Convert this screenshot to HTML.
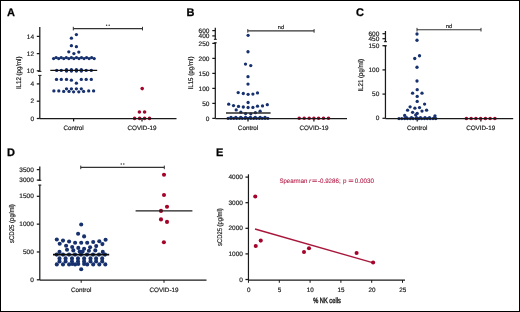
<!DOCTYPE html>
<html><head><meta charset="utf-8"><style>
html,body{margin:0;padding:0;background:#fff;}
body{width:520px;height:312px;overflow:hidden;position:relative;}
svg{position:absolute;left:0;top:0;display:block;will-change:transform;}
text{font-family:"Liberation Sans", sans-serif;text-rendering:geometricPrecision;}
</style></head><body>
<svg width="520" height="312" viewBox="0 0 520 312">
<rect x="0" y="0" width="520" height="312" fill="#fff"/>
<text x="6.9" y="16.4" font-size="11" font-weight="bold" fill="#000" stroke="#000" stroke-width="0.25">A</text>
<line x1="39.80" y1="27.00" x2="39.80" y2="71.50" stroke="#1a1a1a" stroke-width="1.25"/>
<line x1="38.00" y1="71.40" x2="41.40" y2="71.40" stroke="#1a1a1a" stroke-width="1.0"/>
<line x1="39.80" y1="75.30" x2="39.80" y2="118.50" stroke="#1a1a1a" stroke-width="1.25"/>
<line x1="38.20" y1="75.40" x2="41.50" y2="75.40" stroke="#1a1a1a" stroke-width="1.0"/>
<line x1="36.80" y1="36.40" x2="39.80" y2="36.40" stroke="#1a1a1a" stroke-width="1.25"/>
<text x="34.00" y="38.50" font-size="6.5" fill="#1c1c1c" stroke="#1c1c1c" stroke-width="0.18" text-anchor="end">14</text>
<line x1="36.80" y1="53.60" x2="39.80" y2="53.60" stroke="#1a1a1a" stroke-width="1.25"/>
<text x="34.00" y="55.70" font-size="6.5" fill="#1c1c1c" stroke="#1c1c1c" stroke-width="0.18" text-anchor="end">12</text>
<line x1="36.80" y1="70.80" x2="39.80" y2="70.80" stroke="#1a1a1a" stroke-width="1.25"/>
<text x="34.00" y="72.90" font-size="6.5" fill="#1c1c1c" stroke="#1c1c1c" stroke-width="0.18" text-anchor="end">10</text>
<line x1="36.80" y1="83.90" x2="39.80" y2="83.90" stroke="#1a1a1a" stroke-width="1.25"/>
<text x="34.00" y="86.00" font-size="6.5" fill="#1c1c1c" stroke="#1c1c1c" stroke-width="0.18" text-anchor="end">4</text>
<line x1="36.80" y1="101.20" x2="39.80" y2="101.20" stroke="#1a1a1a" stroke-width="1.25"/>
<text x="34.00" y="103.30" font-size="6.5" fill="#1c1c1c" stroke="#1c1c1c" stroke-width="0.18" text-anchor="end">2</text>
<line x1="36.80" y1="118.50" x2="39.80" y2="118.50" stroke="#1a1a1a" stroke-width="1.25"/>
<text x="34.00" y="120.60" font-size="6.5" fill="#1c1c1c" stroke="#1c1c1c" stroke-width="0.18" text-anchor="end">0</text>
<line x1="73.60" y1="118.50" x2="73.60" y2="121.40" stroke="#1a1a1a" stroke-width="1.25"/>
<line x1="142.00" y1="118.50" x2="142.00" y2="121.40" stroke="#1a1a1a" stroke-width="1.25"/>
<text x="73.60" y="130.10" font-size="6.3" fill="#1c1c1c" stroke="#1c1c1c" stroke-width="0.18" text-anchor="middle">Control</text>
<text x="142.00" y="130.10" font-size="6.3" fill="#1c1c1c" stroke="#1c1c1c" stroke-width="0.18" text-anchor="middle">COVID-19</text>
<line x1="73.30" y1="28.60" x2="142.50" y2="28.60" stroke="#333" stroke-width="1.1"/>
<line x1="73.30" y1="26.80" x2="73.30" y2="30.40" stroke="#333" stroke-width="1.0"/>
<line x1="142.50" y1="26.80" x2="142.50" y2="30.40" stroke="#333" stroke-width="1.0"/>
<circle cx="106.60" cy="25.30" r="0.75" fill="#333"/><circle cx="109.20" cy="25.30" r="0.75" fill="#333"/>
<text transform="translate(21.20,72.80) rotate(-90)" x="0" y="0" font-size="6.9" fill="#1c1c1c" stroke="#1c1c1c" stroke-width="0.18" text-anchor="middle" textLength="32.6" lengthAdjust="spacingAndGlyphs">IL12 (pg/ml)</text>
<circle cx="76.40" cy="34.60" r="1.65" fill="#17316f"/>
<circle cx="71.40" cy="38.20" r="1.65" fill="#17316f"/>
<circle cx="71.40" cy="45.70" r="1.65" fill="#17316f"/>
<circle cx="76.40" cy="46.70" r="1.65" fill="#17316f"/>
<circle cx="68.80" cy="51.80" r="1.65" fill="#17316f"/>
<circle cx="73.90" cy="53.60" r="1.65" fill="#17316f"/>
<circle cx="78.80" cy="52.10" r="1.65" fill="#17316f"/>
<circle cx="53.60" cy="58.60" r="1.65" fill="#17316f"/>
<circle cx="56.14" cy="57.60" r="1.65" fill="#17316f"/>
<circle cx="58.68" cy="58.60" r="1.65" fill="#17316f"/>
<circle cx="61.21" cy="57.60" r="1.65" fill="#17316f"/>
<circle cx="63.75" cy="58.60" r="1.65" fill="#17316f"/>
<circle cx="66.29" cy="57.60" r="1.65" fill="#17316f"/>
<circle cx="68.83" cy="58.60" r="1.65" fill="#17316f"/>
<circle cx="71.36" cy="57.60" r="1.65" fill="#17316f"/>
<circle cx="73.90" cy="58.60" r="1.65" fill="#17316f"/>
<circle cx="76.44" cy="57.60" r="1.65" fill="#17316f"/>
<circle cx="78.97" cy="58.60" r="1.65" fill="#17316f"/>
<circle cx="81.51" cy="57.60" r="1.65" fill="#17316f"/>
<circle cx="84.05" cy="58.60" r="1.65" fill="#17316f"/>
<circle cx="86.59" cy="57.60" r="1.65" fill="#17316f"/>
<circle cx="89.12" cy="58.60" r="1.65" fill="#17316f"/>
<circle cx="91.66" cy="57.60" r="1.65" fill="#17316f"/>
<circle cx="94.20" cy="58.60" r="1.65" fill="#17316f"/>
<circle cx="56.70" cy="70.40" r="1.65" fill="#17316f"/>
<circle cx="61.30" cy="70.40" r="1.65" fill="#17316f"/>
<circle cx="66.50" cy="70.40" r="1.65" fill="#17316f"/>
<circle cx="71.40" cy="70.40" r="1.65" fill="#17316f"/>
<circle cx="76.40" cy="70.40" r="1.65" fill="#17316f"/>
<circle cx="81.30" cy="70.40" r="1.65" fill="#17316f"/>
<circle cx="86.20" cy="70.40" r="1.65" fill="#17316f"/>
<circle cx="91.30" cy="70.40" r="1.65" fill="#17316f"/>
<circle cx="66.50" cy="69.70" r="1.65" fill="#17316f"/>
<circle cx="66.50" cy="71.10" r="1.65" fill="#17316f"/>
<circle cx="71.40" cy="69.70" r="1.65" fill="#17316f"/>
<circle cx="71.40" cy="71.10" r="1.65" fill="#17316f"/>
<circle cx="76.40" cy="69.70" r="1.65" fill="#17316f"/>
<circle cx="76.40" cy="71.10" r="1.65" fill="#17316f"/>
<circle cx="81.30" cy="69.70" r="1.65" fill="#17316f"/>
<circle cx="81.30" cy="71.10" r="1.65" fill="#17316f"/>
<circle cx="56.50" cy="79.40" r="1.65" fill="#17316f"/>
<circle cx="61.30" cy="79.40" r="1.65" fill="#17316f"/>
<circle cx="66.50" cy="79.40" r="1.65" fill="#17316f"/>
<circle cx="81.30" cy="79.40" r="1.65" fill="#17316f"/>
<circle cx="86.20" cy="79.40" r="1.65" fill="#17316f"/>
<circle cx="91.30" cy="79.40" r="1.65" fill="#17316f"/>
<circle cx="71.40" cy="80.20" r="1.65" fill="#17316f"/>
<circle cx="76.40" cy="83.20" r="1.65" fill="#17316f"/>
<circle cx="53.90" cy="90.90" r="1.65" fill="#17316f"/>
<circle cx="58.80" cy="90.90" r="1.65" fill="#17316f"/>
<circle cx="63.70" cy="91.40" r="1.65" fill="#17316f"/>
<circle cx="69.00" cy="91.40" r="1.65" fill="#17316f"/>
<circle cx="73.60" cy="91.80" r="1.65" fill="#17316f"/>
<circle cx="78.80" cy="91.80" r="1.65" fill="#17316f"/>
<circle cx="83.60" cy="91.40" r="1.65" fill="#17316f"/>
<circle cx="88.70" cy="90.90" r="1.65" fill="#17316f"/>
<circle cx="93.60" cy="90.90" r="1.65" fill="#17316f"/>
<circle cx="66.50" cy="88.80" r="1.65" fill="#17316f"/>
<circle cx="71.40" cy="88.80" r="1.65" fill="#17316f"/>
<circle cx="76.40" cy="88.80" r="1.65" fill="#17316f"/>
<circle cx="81.30" cy="88.80" r="1.65" fill="#17316f"/>
<line x1="50.30" y1="70.45" x2="97.20" y2="70.45" stroke="#111" stroke-width="1.2"/>
<circle cx="142.20" cy="88.60" r="1.8" fill="#a3042a"/>
<circle cx="139.40" cy="112.00" r="1.8" fill="#a3042a"/>
<circle cx="144.60" cy="112.00" r="1.8" fill="#a3042a"/>
<circle cx="134.60" cy="118.40" r="1.8" fill="#a3042a"/>
<circle cx="139.60" cy="118.40" r="1.8" fill="#a3042a"/>
<circle cx="144.60" cy="118.40" r="1.8" fill="#a3042a"/>
<circle cx="149.50" cy="118.40" r="1.8" fill="#a3042a"/>
<text x="186.4" y="16.0" font-size="11" font-weight="bold" fill="#000" stroke="#000" stroke-width="0.25">B</text>
<line x1="215.30" y1="27.80" x2="215.30" y2="39.60" stroke="#1a1a1a" stroke-width="1.25"/>
<line x1="213.90" y1="39.30" x2="216.80" y2="39.30" stroke="#1a1a1a" stroke-width="1.0"/>
<line x1="215.30" y1="42.50" x2="215.30" y2="118.50" stroke="#1a1a1a" stroke-width="1.25"/>
<line x1="213.80" y1="42.80" x2="216.80" y2="42.80" stroke="#1a1a1a" stroke-width="1.0"/>
<line x1="212.30" y1="30.60" x2="215.30" y2="30.60" stroke="#1a1a1a" stroke-width="1.25"/>
<text x="209.40" y="32.70" font-size="6.5" fill="#1c1c1c" stroke="#1c1c1c" stroke-width="0.18" text-anchor="end">600</text>
<line x1="212.30" y1="35.90" x2="215.30" y2="35.90" stroke="#1a1a1a" stroke-width="1.25"/>
<text x="209.40" y="38.00" font-size="6.5" fill="#1c1c1c" stroke="#1c1c1c" stroke-width="0.18" text-anchor="end">400</text>
<line x1="212.30" y1="43.40" x2="215.30" y2="43.40" stroke="#1a1a1a" stroke-width="1.25"/>
<text x="209.40" y="45.50" font-size="6.5" fill="#1c1c1c" stroke="#1c1c1c" stroke-width="0.18" text-anchor="end">250</text>
<line x1="212.30" y1="58.40" x2="215.30" y2="58.40" stroke="#1a1a1a" stroke-width="1.25"/>
<text x="209.40" y="60.50" font-size="6.5" fill="#1c1c1c" stroke="#1c1c1c" stroke-width="0.18" text-anchor="end">200</text>
<line x1="212.30" y1="73.40" x2="215.30" y2="73.40" stroke="#1a1a1a" stroke-width="1.25"/>
<text x="209.40" y="75.50" font-size="6.5" fill="#1c1c1c" stroke="#1c1c1c" stroke-width="0.18" text-anchor="end">150</text>
<line x1="212.30" y1="88.40" x2="215.30" y2="88.40" stroke="#1a1a1a" stroke-width="1.25"/>
<text x="209.40" y="90.50" font-size="6.5" fill="#1c1c1c" stroke="#1c1c1c" stroke-width="0.18" text-anchor="end">100</text>
<line x1="212.30" y1="103.40" x2="215.30" y2="103.40" stroke="#1a1a1a" stroke-width="1.25"/>
<text x="209.40" y="105.50" font-size="6.5" fill="#1c1c1c" stroke="#1c1c1c" stroke-width="0.18" text-anchor="end">50</text>
<line x1="212.30" y1="118.40" x2="215.30" y2="118.40" stroke="#1a1a1a" stroke-width="1.25"/>
<text x="209.40" y="120.50" font-size="6.5" fill="#1c1c1c" stroke="#1c1c1c" stroke-width="0.18" text-anchor="end">0</text>
<line x1="248.00" y1="118.50" x2="248.00" y2="121.40" stroke="#1a1a1a" stroke-width="1.25"/>
<line x1="313.90" y1="118.50" x2="313.90" y2="121.40" stroke="#1a1a1a" stroke-width="1.25"/>
<text x="248.00" y="130.10" font-size="6.3" fill="#1c1c1c" stroke="#1c1c1c" stroke-width="0.18" text-anchor="middle">Control</text>
<text x="313.90" y="130.10" font-size="6.3" fill="#1c1c1c" stroke="#1c1c1c" stroke-width="0.18" text-anchor="middle">COVID-19</text>
<line x1="247.80" y1="30.90" x2="314.10" y2="30.90" stroke="#333" stroke-width="1.1"/>
<line x1="247.80" y1="29.10" x2="247.80" y2="32.70" stroke="#333" stroke-width="1.0"/>
<line x1="314.10" y1="29.10" x2="314.10" y2="32.70" stroke="#333" stroke-width="1.0"/>
<text x="280.95" y="29.00" font-size="5.6" fill="#1c1c1c" stroke="#1c1c1c" stroke-width="0.18" text-anchor="middle">nd</text>
<text transform="translate(193.20,73.00) rotate(-90)" x="0" y="0" font-size="6.9" fill="#1c1c1c" stroke="#1c1c1c" stroke-width="0.18" text-anchor="middle" textLength="33.0" lengthAdjust="spacingAndGlyphs">IL15 (pg/ml)</text>
<circle cx="248.10" cy="35.30" r="1.65" fill="#17316f"/>
<circle cx="248.00" cy="51.75" r="1.65" fill="#17316f"/>
<circle cx="245.50" cy="64.10" r="1.65" fill="#17316f"/>
<circle cx="250.75" cy="65.60" r="1.65" fill="#17316f"/>
<circle cx="248.00" cy="76.70" r="1.65" fill="#17316f"/>
<circle cx="248.00" cy="84.10" r="1.65" fill="#17316f"/>
<circle cx="238.20" cy="92.60" r="1.65" fill="#17316f"/>
<circle cx="243.30" cy="93.50" r="1.65" fill="#17316f"/>
<circle cx="248.10" cy="94.30" r="1.65" fill="#17316f"/>
<circle cx="252.90" cy="94.10" r="1.65" fill="#17316f"/>
<circle cx="257.50" cy="92.90" r="1.65" fill="#17316f"/>
<circle cx="248.10" cy="102.50" r="1.65" fill="#17316f"/>
<circle cx="228.70" cy="104.20" r="1.65" fill="#17316f"/>
<circle cx="233.50" cy="105.60" r="1.65" fill="#17316f"/>
<circle cx="238.50" cy="106.40" r="1.65" fill="#17316f"/>
<circle cx="243.30" cy="107.00" r="1.65" fill="#17316f"/>
<circle cx="248.10" cy="107.50" r="1.65" fill="#17316f"/>
<circle cx="252.90" cy="107.40" r="1.65" fill="#17316f"/>
<circle cx="257.50" cy="106.20" r="1.65" fill="#17316f"/>
<circle cx="262.50" cy="105.90" r="1.65" fill="#17316f"/>
<circle cx="267.30" cy="104.70" r="1.65" fill="#17316f"/>
<circle cx="236.20" cy="109.90" r="1.65" fill="#17316f"/>
<circle cx="240.80" cy="112.20" r="1.65" fill="#17316f"/>
<circle cx="245.60" cy="113.60" r="1.65" fill="#17316f"/>
<circle cx="250.80" cy="113.80" r="1.65" fill="#17316f"/>
<circle cx="255.40" cy="112.70" r="1.65" fill="#17316f"/>
<circle cx="260.10" cy="111.20" r="1.65" fill="#17316f"/>
<circle cx="228.10" cy="118.30" r="1.65" fill="#17316f"/>
<circle cx="230.94" cy="118.30" r="1.65" fill="#17316f"/>
<circle cx="233.79" cy="118.30" r="1.65" fill="#17316f"/>
<circle cx="236.63" cy="118.30" r="1.65" fill="#17316f"/>
<circle cx="239.47" cy="118.30" r="1.65" fill="#17316f"/>
<circle cx="242.31" cy="118.30" r="1.65" fill="#17316f"/>
<circle cx="245.16" cy="118.30" r="1.65" fill="#17316f"/>
<circle cx="248.00" cy="118.30" r="1.65" fill="#17316f"/>
<circle cx="250.84" cy="118.30" r="1.65" fill="#17316f"/>
<circle cx="253.69" cy="118.30" r="1.65" fill="#17316f"/>
<circle cx="256.53" cy="118.30" r="1.65" fill="#17316f"/>
<circle cx="259.37" cy="118.30" r="1.65" fill="#17316f"/>
<circle cx="262.21" cy="118.30" r="1.65" fill="#17316f"/>
<circle cx="265.06" cy="118.30" r="1.65" fill="#17316f"/>
<circle cx="267.90" cy="118.30" r="1.65" fill="#17316f"/>
<circle cx="231.00" cy="117.40" r="1.65" fill="#17316f"/>
<circle cx="235.86" cy="117.40" r="1.65" fill="#17316f"/>
<circle cx="240.71" cy="117.40" r="1.65" fill="#17316f"/>
<circle cx="245.57" cy="117.40" r="1.65" fill="#17316f"/>
<circle cx="250.43" cy="117.40" r="1.65" fill="#17316f"/>
<circle cx="255.29" cy="117.40" r="1.65" fill="#17316f"/>
<circle cx="260.14" cy="117.40" r="1.65" fill="#17316f"/>
<circle cx="265.00" cy="117.40" r="1.65" fill="#17316f"/>
<line x1="226.00" y1="113.00" x2="270.60" y2="113.00" stroke="#2a2a2a" stroke-width="1.4"/>
<circle cx="299.20" cy="118.30" r="1.8" fill="#a3042a"/>
<circle cx="304.20" cy="118.30" r="1.8" fill="#a3042a"/>
<circle cx="309.20" cy="118.30" r="1.8" fill="#a3042a"/>
<circle cx="313.90" cy="118.30" r="1.8" fill="#a3042a"/>
<circle cx="318.60" cy="118.30" r="1.8" fill="#a3042a"/>
<circle cx="323.50" cy="118.30" r="1.8" fill="#a3042a"/>
<circle cx="328.50" cy="118.30" r="1.8" fill="#a3042a"/>
<text x="356.1" y="16.0" font-size="11" font-weight="bold" fill="#000" stroke="#000" stroke-width="0.25">C</text>
<line x1="385.45" y1="31.00" x2="385.45" y2="42.00" stroke="#1a1a1a" stroke-width="1.25"/>
<line x1="383.95" y1="41.70" x2="386.95" y2="41.70" stroke="#1a1a1a" stroke-width="1.0"/>
<line x1="385.45" y1="45.50" x2="385.45" y2="118.50" stroke="#1a1a1a" stroke-width="1.25"/>
<line x1="383.95" y1="45.80" x2="386.95" y2="45.80" stroke="#1a1a1a" stroke-width="1.0"/>
<line x1="382.45" y1="33.70" x2="385.45" y2="33.70" stroke="#1a1a1a" stroke-width="1.25"/>
<text x="379.30" y="35.80" font-size="6.5" fill="#1c1c1c" stroke="#1c1c1c" stroke-width="0.18" text-anchor="end">600</text>
<line x1="382.45" y1="38.70" x2="385.45" y2="38.70" stroke="#1a1a1a" stroke-width="1.25"/>
<text x="379.30" y="40.80" font-size="6.5" fill="#1c1c1c" stroke="#1c1c1c" stroke-width="0.18" text-anchor="end">450</text>
<line x1="382.45" y1="45.70" x2="385.45" y2="45.70" stroke="#1a1a1a" stroke-width="1.25"/>
<text x="379.30" y="47.80" font-size="6.5" fill="#1c1c1c" stroke="#1c1c1c" stroke-width="0.18" text-anchor="end">150</text>
<line x1="382.45" y1="69.90" x2="385.45" y2="69.90" stroke="#1a1a1a" stroke-width="1.25"/>
<text x="379.30" y="72.00" font-size="6.5" fill="#1c1c1c" stroke="#1c1c1c" stroke-width="0.18" text-anchor="end">100</text>
<line x1="382.45" y1="94.10" x2="385.45" y2="94.10" stroke="#1a1a1a" stroke-width="1.25"/>
<text x="379.30" y="96.20" font-size="6.5" fill="#1c1c1c" stroke="#1c1c1c" stroke-width="0.18" text-anchor="end">50</text>
<line x1="382.45" y1="118.30" x2="385.45" y2="118.30" stroke="#1a1a1a" stroke-width="1.25"/>
<text x="379.30" y="120.40" font-size="6.5" fill="#1c1c1c" stroke="#1c1c1c" stroke-width="0.18" text-anchor="end">0</text>
<line x1="417.20" y1="118.50" x2="417.20" y2="121.40" stroke="#1a1a1a" stroke-width="1.25"/>
<line x1="480.90" y1="118.50" x2="480.90" y2="121.40" stroke="#1a1a1a" stroke-width="1.25"/>
<text x="417.20" y="130.10" font-size="6.3" fill="#1c1c1c" stroke="#1c1c1c" stroke-width="0.18" text-anchor="middle">Control</text>
<text x="480.70" y="130.10" font-size="6.3" fill="#1c1c1c" stroke="#1c1c1c" stroke-width="0.18" text-anchor="middle">COVID-19</text>
<line x1="417.00" y1="29.70" x2="481.00" y2="29.70" stroke="#333" stroke-width="1.1"/>
<line x1="417.00" y1="27.90" x2="417.00" y2="31.50" stroke="#333" stroke-width="1.0"/>
<line x1="481.00" y1="27.90" x2="481.00" y2="31.50" stroke="#333" stroke-width="1.0"/>
<text x="449.00" y="27.90" font-size="5.6" fill="#1c1c1c" stroke="#1c1c1c" stroke-width="0.18" text-anchor="middle">nd</text>
<text transform="translate(363.00,75.30) rotate(-90)" x="0" y="0" font-size="6.9" fill="#1c1c1c" stroke="#1c1c1c" stroke-width="0.18" text-anchor="middle" textLength="32.6" lengthAdjust="spacingAndGlyphs">IL21 (pg/ml)</text>
<circle cx="417.00" cy="34.00" r="1.65" fill="#17316f"/>
<circle cx="417.00" cy="40.25" r="1.65" fill="#17316f"/>
<circle cx="419.50" cy="55.75" r="1.65" fill="#17316f"/>
<circle cx="414.75" cy="58.50" r="1.65" fill="#17316f"/>
<circle cx="417.00" cy="67.25" r="1.65" fill="#17316f"/>
<circle cx="417.00" cy="81.00" r="1.65" fill="#17316f"/>
<circle cx="417.20" cy="89.70" r="1.65" fill="#17316f"/>
<circle cx="412.60" cy="93.20" r="1.65" fill="#17316f"/>
<circle cx="422.00" cy="93.20" r="1.65" fill="#17316f"/>
<circle cx="417.20" cy="96.40" r="1.65" fill="#17316f"/>
<circle cx="417.20" cy="101.40" r="1.65" fill="#17316f"/>
<circle cx="424.60" cy="104.10" r="1.65" fill="#17316f"/>
<circle cx="410.10" cy="106.80" r="1.65" fill="#17316f"/>
<circle cx="414.90" cy="108.20" r="1.65" fill="#17316f"/>
<circle cx="419.50" cy="107.60" r="1.65" fill="#17316f"/>
<circle cx="407.60" cy="110.20" r="1.65" fill="#17316f"/>
<circle cx="422.00" cy="111.10" r="1.65" fill="#17316f"/>
<circle cx="426.60" cy="110.20" r="1.65" fill="#17316f"/>
<circle cx="412.60" cy="112.30" r="1.65" fill="#17316f"/>
<circle cx="417.20" cy="113.40" r="1.65" fill="#17316f"/>
<circle cx="415.70" cy="114.90" r="1.65" fill="#17316f"/>
<circle cx="404.70" cy="115.40" r="1.65" fill="#17316f"/>
<circle cx="435.00" cy="115.80" r="1.65" fill="#17316f"/>
<circle cx="399.00" cy="118.60" r="1.65" fill="#17316f"/>
<circle cx="401.83" cy="118.60" r="1.65" fill="#17316f"/>
<circle cx="404.66" cy="118.60" r="1.65" fill="#17316f"/>
<circle cx="407.49" cy="118.60" r="1.65" fill="#17316f"/>
<circle cx="410.32" cy="118.60" r="1.65" fill="#17316f"/>
<circle cx="413.15" cy="118.60" r="1.65" fill="#17316f"/>
<circle cx="415.98" cy="118.60" r="1.65" fill="#17316f"/>
<circle cx="418.82" cy="118.60" r="1.65" fill="#17316f"/>
<circle cx="421.65" cy="118.60" r="1.65" fill="#17316f"/>
<circle cx="424.48" cy="118.60" r="1.65" fill="#17316f"/>
<circle cx="427.31" cy="118.60" r="1.65" fill="#17316f"/>
<circle cx="430.14" cy="118.60" r="1.65" fill="#17316f"/>
<circle cx="432.97" cy="118.60" r="1.65" fill="#17316f"/>
<circle cx="435.80" cy="118.60" r="1.65" fill="#17316f"/>
<circle cx="406.50" cy="117.70" r="1.65" fill="#17316f"/>
<circle cx="411.50" cy="117.70" r="1.65" fill="#17316f"/>
<circle cx="416.50" cy="117.70" r="1.65" fill="#17316f"/>
<circle cx="420.50" cy="117.70" r="1.65" fill="#17316f"/>
<circle cx="425.00" cy="117.70" r="1.65" fill="#17316f"/>
<circle cx="429.50" cy="117.70" r="1.65" fill="#17316f"/>
<circle cx="434.50" cy="117.70" r="1.65" fill="#17316f"/>
<circle cx="466.40" cy="118.50" r="1.8" fill="#a3042a"/>
<circle cx="471.15" cy="118.50" r="1.8" fill="#a3042a"/>
<circle cx="475.90" cy="118.50" r="1.8" fill="#a3042a"/>
<circle cx="480.65" cy="118.50" r="1.8" fill="#a3042a"/>
<circle cx="485.40" cy="118.50" r="1.8" fill="#a3042a"/>
<circle cx="490.15" cy="118.50" r="1.8" fill="#a3042a"/>
<circle cx="494.90" cy="118.50" r="1.8" fill="#a3042a"/>
<text x="6.9" y="156.4" font-size="11" font-weight="bold" fill="#000" stroke="#000" stroke-width="0.25">D</text>
<line x1="39.80" y1="166.60" x2="39.80" y2="180.60" stroke="#1a1a1a" stroke-width="1.25"/>
<line x1="38.30" y1="180.30" x2="41.30" y2="180.30" stroke="#1a1a1a" stroke-width="1.0"/>
<line x1="39.80" y1="184.80" x2="39.80" y2="280.00" stroke="#1a1a1a" stroke-width="1.25"/>
<line x1="38.30" y1="185.10" x2="41.30" y2="185.10" stroke="#1a1a1a" stroke-width="1.0"/>
<line x1="36.80" y1="169.60" x2="39.80" y2="169.60" stroke="#1a1a1a" stroke-width="1.25"/>
<text x="33.80" y="171.70" font-size="6.5" fill="#1c1c1c" stroke="#1c1c1c" stroke-width="0.18" text-anchor="end">3500</text>
<line x1="36.80" y1="180.10" x2="39.80" y2="180.10" stroke="#1a1a1a" stroke-width="1.25"/>
<text x="33.80" y="182.20" font-size="6.5" fill="#1c1c1c" stroke="#1c1c1c" stroke-width="0.18" text-anchor="end">3000</text>
<line x1="36.80" y1="196.31" x2="39.80" y2="196.31" stroke="#1a1a1a" stroke-width="1.25"/>
<text x="33.80" y="198.41" font-size="6.5" fill="#1c1c1c" stroke="#1c1c1c" stroke-width="0.18" text-anchor="end">1500</text>
<line x1="36.80" y1="224.14" x2="39.80" y2="224.14" stroke="#1a1a1a" stroke-width="1.25"/>
<text x="33.80" y="226.24" font-size="6.5" fill="#1c1c1c" stroke="#1c1c1c" stroke-width="0.18" text-anchor="end">1000</text>
<line x1="36.80" y1="251.97" x2="39.80" y2="251.97" stroke="#1a1a1a" stroke-width="1.25"/>
<text x="33.80" y="254.07" font-size="6.5" fill="#1c1c1c" stroke="#1c1c1c" stroke-width="0.18" text-anchor="end">500</text>
<line x1="36.80" y1="279.80" x2="39.80" y2="279.80" stroke="#1a1a1a" stroke-width="1.25"/>
<text x="33.80" y="281.90" font-size="6.5" fill="#1c1c1c" stroke="#1c1c1c" stroke-width="0.18" text-anchor="end">0</text>
<line x1="81.20" y1="280.00" x2="81.20" y2="282.80" stroke="#1a1a1a" stroke-width="1.0"/>
<line x1="164.00" y1="280.00" x2="164.00" y2="282.80" stroke="#1a1a1a" stroke-width="1.0"/>
<text x="81.20" y="291.90" font-size="6.3" fill="#1c1c1c" stroke="#1c1c1c" stroke-width="0.18" text-anchor="middle">Control</text>
<text x="164.00" y="291.90" font-size="6.3" fill="#1c1c1c" stroke="#1c1c1c" stroke-width="0.18" text-anchor="middle">COVID-19</text>
<line x1="80.75" y1="167.40" x2="164.30" y2="167.40" stroke="#333" stroke-width="1.1"/>
<line x1="80.75" y1="165.60" x2="80.75" y2="169.20" stroke="#333" stroke-width="1.0"/>
<line x1="164.30" y1="165.60" x2="164.30" y2="169.20" stroke="#333" stroke-width="1.0"/>
<circle cx="121.23" cy="164.10" r="0.75" fill="#333"/><circle cx="123.83" cy="164.10" r="0.75" fill="#333"/>
<text transform="translate(13.70,223.60) rotate(-90)" x="0" y="0" font-size="6.9" fill="#1c1c1c" stroke="#1c1c1c" stroke-width="0.18" text-anchor="middle" textLength="38.8" lengthAdjust="spacingAndGlyphs">sCD25 (pg/ml)</text>
<circle cx="81.20" cy="224.50" r="2.05" fill="#17316f"/>
<circle cx="78.10" cy="233.80" r="2.05" fill="#17316f"/>
<circle cx="84.10" cy="236.40" r="2.05" fill="#17316f"/>
<circle cx="56.80" cy="239.50" r="2.05" fill="#17316f"/>
<circle cx="63.00" cy="240.60" r="2.05" fill="#17316f"/>
<circle cx="59.70" cy="243.70" r="2.05" fill="#17316f"/>
<circle cx="69.10" cy="241.50" r="2.05" fill="#17316f"/>
<circle cx="75.10" cy="242.70" r="2.05" fill="#17316f"/>
<circle cx="81.20" cy="242.70" r="2.05" fill="#17316f"/>
<circle cx="87.20" cy="242.70" r="2.05" fill="#17316f"/>
<circle cx="93.20" cy="242.00" r="2.05" fill="#17316f"/>
<circle cx="99.30" cy="241.20" r="2.05" fill="#17316f"/>
<circle cx="102.40" cy="244.10" r="2.05" fill="#17316f"/>
<circle cx="105.60" cy="239.70" r="2.05" fill="#17316f"/>
<circle cx="66.10" cy="245.80" r="2.05" fill="#17316f"/>
<circle cx="72.20" cy="247.00" r="2.05" fill="#17316f"/>
<circle cx="78.30" cy="247.90" r="2.05" fill="#17316f"/>
<circle cx="84.10" cy="248.70" r="2.05" fill="#17316f"/>
<circle cx="90.10" cy="247.30" r="2.05" fill="#17316f"/>
<circle cx="96.20" cy="246.10" r="2.05" fill="#17316f"/>
<circle cx="67.00" cy="249.80" r="2.05" fill="#17316f"/>
<circle cx="73.30" cy="250.40" r="2.05" fill="#17316f"/>
<circle cx="79.70" cy="251.60" r="2.05" fill="#17316f"/>
<circle cx="82.60" cy="251.60" r="2.05" fill="#17316f"/>
<circle cx="88.90" cy="250.80" r="2.05" fill="#17316f"/>
<circle cx="95.30" cy="250.40" r="2.05" fill="#17316f"/>
<circle cx="59.50" cy="251.90" r="2.05" fill="#17316f"/>
<circle cx="102.80" cy="251.90" r="2.05" fill="#17316f"/>
<circle cx="56.60" cy="254.60" r="2.05" fill="#17316f"/>
<circle cx="63.00" cy="254.60" r="2.05" fill="#17316f"/>
<circle cx="69.00" cy="254.60" r="2.05" fill="#17316f"/>
<circle cx="75.00" cy="254.60" r="2.05" fill="#17316f"/>
<circle cx="81.00" cy="254.60" r="2.05" fill="#17316f"/>
<circle cx="87.00" cy="254.60" r="2.05" fill="#17316f"/>
<circle cx="93.00" cy="254.60" r="2.05" fill="#17316f"/>
<circle cx="99.00" cy="254.60" r="2.05" fill="#17316f"/>
<circle cx="105.00" cy="254.60" r="2.05" fill="#17316f"/>
<circle cx="59.50" cy="258.40" r="2.05" fill="#17316f"/>
<circle cx="59.50" cy="261.40" r="2.05" fill="#17316f"/>
<circle cx="65.60" cy="258.40" r="2.05" fill="#17316f"/>
<circle cx="65.60" cy="261.40" r="2.05" fill="#17316f"/>
<circle cx="72.00" cy="258.40" r="2.05" fill="#17316f"/>
<circle cx="72.00" cy="261.40" r="2.05" fill="#17316f"/>
<circle cx="78.00" cy="258.40" r="2.05" fill="#17316f"/>
<circle cx="78.00" cy="261.40" r="2.05" fill="#17316f"/>
<circle cx="84.10" cy="258.40" r="2.05" fill="#17316f"/>
<circle cx="84.10" cy="261.40" r="2.05" fill="#17316f"/>
<circle cx="90.50" cy="258.40" r="2.05" fill="#17316f"/>
<circle cx="90.50" cy="261.40" r="2.05" fill="#17316f"/>
<circle cx="96.10" cy="258.40" r="2.05" fill="#17316f"/>
<circle cx="96.10" cy="261.40" r="2.05" fill="#17316f"/>
<circle cx="102.20" cy="258.40" r="2.05" fill="#17316f"/>
<circle cx="102.20" cy="261.40" r="2.05" fill="#17316f"/>
<circle cx="72.20" cy="264.00" r="2.05" fill="#17316f"/>
<circle cx="78.30" cy="264.00" r="2.05" fill="#17316f"/>
<circle cx="84.10" cy="264.00" r="2.05" fill="#17316f"/>
<circle cx="56.80" cy="264.40" r="2.05" fill="#17316f"/>
<circle cx="63.00" cy="264.40" r="2.05" fill="#17316f"/>
<circle cx="69.10" cy="264.40" r="2.05" fill="#17316f"/>
<circle cx="75.10" cy="264.40" r="2.05" fill="#17316f"/>
<circle cx="87.20" cy="264.40" r="2.05" fill="#17316f"/>
<circle cx="93.20" cy="264.40" r="2.05" fill="#17316f"/>
<circle cx="99.30" cy="264.40" r="2.05" fill="#17316f"/>
<circle cx="105.30" cy="264.40" r="2.05" fill="#17316f"/>
<circle cx="81.20" cy="269.20" r="2.05" fill="#17316f"/>
<line x1="53.00" y1="254.60" x2="109.20" y2="254.60" stroke="#0d0d0d" stroke-width="1.7"/>
<circle cx="164.00" cy="174.70" r="2.05" fill="#a3042a"/>
<circle cx="164.00" cy="195.00" r="2.05" fill="#a3042a"/>
<circle cx="167.00" cy="206.80" r="2.05" fill="#a3042a"/>
<circle cx="161.00" cy="210.90" r="2.05" fill="#a3042a"/>
<circle cx="161.00" cy="219.40" r="2.05" fill="#a3042a"/>
<circle cx="167.00" cy="221.90" r="2.05" fill="#a3042a"/>
<circle cx="163.90" cy="242.30" r="2.05" fill="#a3042a"/>
<line x1="135.60" y1="210.90" x2="192.40" y2="210.90" stroke="#1e1e1e" stroke-width="1.4"/>
<text x="215.9" y="156.1" font-size="11" font-weight="bold" fill="#000" stroke="#000" stroke-width="0.25">E</text>
<line x1="248.45" y1="174.30" x2="248.45" y2="280.00" stroke="#1a1a1a" stroke-width="1.2"/>
<line x1="245.45" y1="177.10" x2="248.45" y2="177.10" stroke="#1a1a1a" stroke-width="1.25"/>
<text x="242.90" y="179.20" font-size="6.5" fill="#1c1c1c" stroke="#1c1c1c" stroke-width="0.18" text-anchor="end">4000</text>
<line x1="245.45" y1="202.70" x2="248.45" y2="202.70" stroke="#1a1a1a" stroke-width="1.25"/>
<text x="242.90" y="204.80" font-size="6.5" fill="#1c1c1c" stroke="#1c1c1c" stroke-width="0.18" text-anchor="end">3000</text>
<line x1="245.45" y1="228.30" x2="248.45" y2="228.30" stroke="#1a1a1a" stroke-width="1.25"/>
<text x="242.90" y="230.40" font-size="6.5" fill="#1c1c1c" stroke="#1c1c1c" stroke-width="0.18" text-anchor="end">2000</text>
<line x1="245.45" y1="253.90" x2="248.45" y2="253.90" stroke="#1a1a1a" stroke-width="1.25"/>
<text x="242.90" y="256.00" font-size="6.5" fill="#1c1c1c" stroke="#1c1c1c" stroke-width="0.18" text-anchor="end">1000</text>
<line x1="245.45" y1="279.50" x2="248.45" y2="279.50" stroke="#1a1a1a" stroke-width="1.25"/>
<text x="242.90" y="281.60" font-size="6.5" fill="#1c1c1c" stroke="#1c1c1c" stroke-width="0.18" text-anchor="end">0</text>
<line x1="248.45" y1="280.00" x2="248.45" y2="282.80" stroke="#1a1a1a" stroke-width="1.0"/>
<text x="248.65" y="291.80" font-size="6.3" fill="#1c1c1c" stroke="#1c1c1c" stroke-width="0.18" text-anchor="middle">0</text>
<line x1="279.30" y1="280.00" x2="279.30" y2="282.80" stroke="#1a1a1a" stroke-width="1.0"/>
<text x="279.50" y="291.80" font-size="6.3" fill="#1c1c1c" stroke="#1c1c1c" stroke-width="0.18" text-anchor="middle">5</text>
<line x1="310.10" y1="280.00" x2="310.10" y2="282.80" stroke="#1a1a1a" stroke-width="1.0"/>
<text x="310.30" y="291.80" font-size="6.3" fill="#1c1c1c" stroke="#1c1c1c" stroke-width="0.18" text-anchor="middle">10</text>
<line x1="340.90" y1="280.00" x2="340.90" y2="282.80" stroke="#1a1a1a" stroke-width="1.0"/>
<text x="341.10" y="291.80" font-size="6.3" fill="#1c1c1c" stroke="#1c1c1c" stroke-width="0.18" text-anchor="middle">15</text>
<line x1="371.70" y1="280.00" x2="371.70" y2="282.80" stroke="#1a1a1a" stroke-width="1.0"/>
<text x="371.90" y="291.80" font-size="6.3" fill="#1c1c1c" stroke="#1c1c1c" stroke-width="0.18" text-anchor="middle">20</text>
<line x1="402.50" y1="280.00" x2="402.50" y2="282.80" stroke="#1a1a1a" stroke-width="1.0"/>
<text x="402.70" y="291.80" font-size="6.3" fill="#1c1c1c" stroke="#1c1c1c" stroke-width="0.18" text-anchor="middle">25</text>
<text x="313.2" y="302.6" font-size="7.6" fill="#1c1c1c" stroke="#1c1c1c" stroke-width="0.4" textLength="27.6" lengthAdjust="spacingAndGlyphs">% NK cells</text>
<text transform="translate(221.80,227.10) rotate(-90)" x="0" y="0" font-size="6.9" fill="#1c1c1c" stroke="#1c1c1c" stroke-width="0.18" text-anchor="middle" textLength="37.6" lengthAdjust="spacingAndGlyphs">sCD25 (pg/ml)</text>
<line x1="255.00" y1="229.00" x2="373.40" y2="262.90" stroke="#a8163a" stroke-width="1.35"/>
<circle cx="255.25" cy="196.50" r="2.05" fill="#a3042a"/>
<circle cx="255.75" cy="246.00" r="2.05" fill="#a3042a"/>
<circle cx="260.75" cy="240.60" r="2.05" fill="#a3042a"/>
<circle cx="304.00" cy="252.00" r="2.05" fill="#a3042a"/>
<circle cx="309.00" cy="248.20" r="2.05" fill="#a3042a"/>
<circle cx="356.60" cy="253.00" r="2.05" fill="#a3042a"/>
<circle cx="373.10" cy="262.50" r="2.05" fill="#a3042a"/>
<text x="279.4" y="182.7" font-size="6.3" fill="#b8234d" stroke="#b8234d" stroke-width="0.1" textLength="28.0" lengthAdjust="spacingAndGlyphs">Spearman</text>
<text x="309.0" y="182.7" font-size="6.3" fill="#b8234d" stroke="#b8234d" stroke-width="0.1" font-style="italic">r</text>
<text x="318.0" y="182.7" font-size="6.3" fill="#b8234d" stroke="#b8234d" stroke-width="0.1" textLength="22.6" lengthAdjust="spacingAndGlyphs">-0.9286;</text>
<text x="342.9" y="182.7" font-size="6.3" fill="#b8234d" stroke="#b8234d" stroke-width="0.1">p</text>
<text x="354.7" y="182.7" font-size="6.3" fill="#b8234d" stroke="#b8234d" stroke-width="0.1" textLength="19.2" lengthAdjust="spacingAndGlyphs">0.0030</text>
<rect x="312.3" y="179.6" width="4.6" height="0.75" fill="#b8234d"/><rect x="312.3" y="181.2" width="4.6" height="0.75" fill="#b8234d"/>
<rect x="348.7" y="179.6" width="4.6" height="0.75" fill="#b8234d"/><rect x="348.7" y="181.2" width="4.6" height="0.75" fill="#b8234d"/>
<line x1="39.80" y1="118.50" x2="176.50" y2="118.50" stroke="#1a1a1a" stroke-width="1.25"/>
<line x1="215.30" y1="118.50" x2="347.00" y2="118.50" stroke="#1a1a1a" stroke-width="1.25"/>
<line x1="385.45" y1="118.50" x2="513.20" y2="118.50" stroke="#1a1a1a" stroke-width="1.25"/>
<line x1="39.80" y1="280.00" x2="206.50" y2="280.00" stroke="#1a1a1a" stroke-width="1.25"/>
<line x1="248.45" y1="280.00" x2="405.00" y2="280.00" stroke="#1a1a1a" stroke-width="1.25"/>
<rect x="0.5" y="0.5" width="519" height="311" fill="none" stroke="#000" stroke-width="1"/>
</svg>
</body></html>
